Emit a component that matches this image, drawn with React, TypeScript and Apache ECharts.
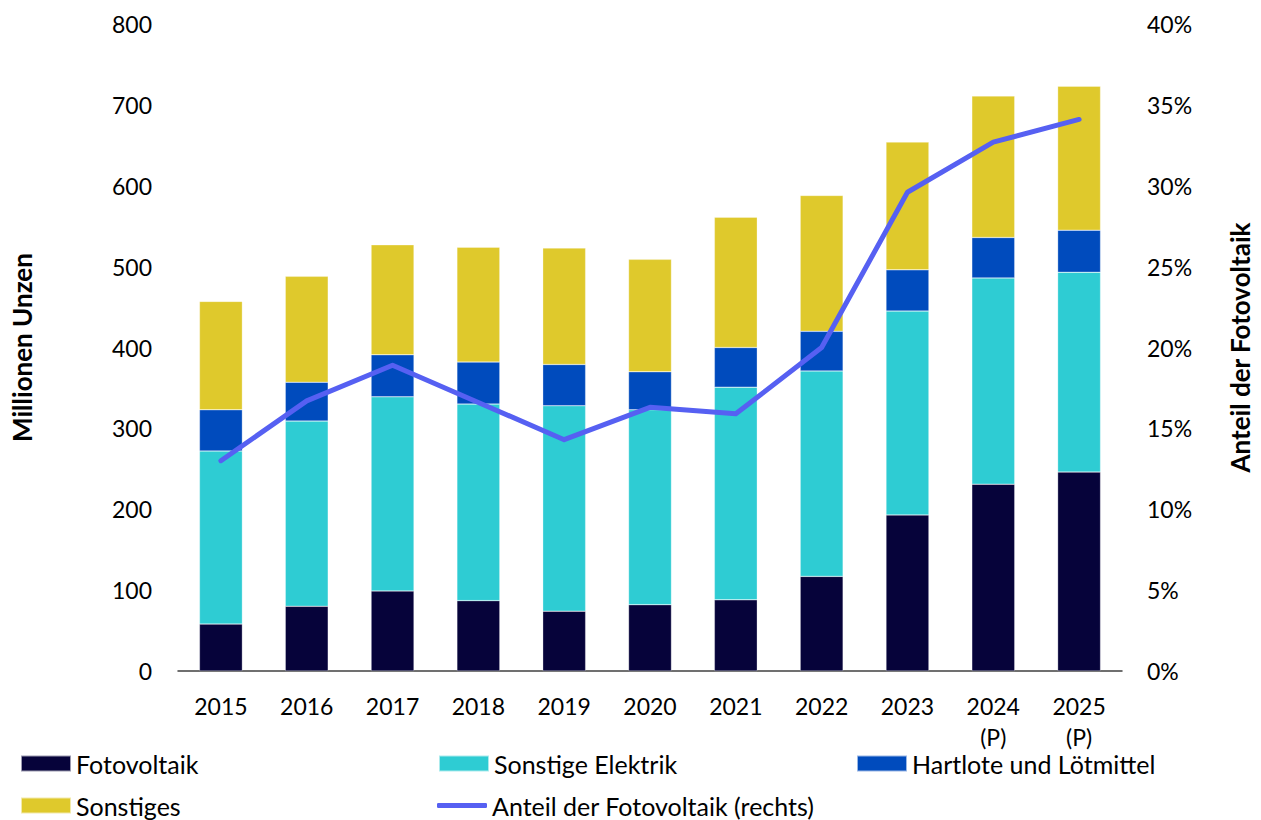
import React, { useEffect, useRef } from "react";
import * as echarts from "echarts";

const categories = ["2015", "2016", "2017", "2018", "2019", "2020", "2021", "2022", "2023", "2024\n(P)", "2025\n(P)"];
const fotovoltaik = [58, 80, 99, 87, 74, 82, 88, 117, 193, 231, 246];
const sonstigeElektrik = [214, 229, 240, 243, 254, 241, 263, 254, 252, 255, 247];
const hartlote = [51, 48, 52, 52, 51, 47, 49, 49, 51, 50, 52];
const sonstiges = [134, 131, 136, 142, 144, 139, 161, 168, 158, 175, 178];
const anteilPV = [13.0, 16.7, 18.9, 16.6, 14.3, 16.3, 15.9, 20.0, 29.6, 32.7, 34.1];
const leftTicks = { min: 0, max: 800, interval: 100 };
const rightTicks = { min: 0, max: 40, interval: 5 };

const FONT = "Lato";

export default function App() {
  const ref = useRef<HTMLDivElement>(null);
  useEffect(() => {
    if (!ref.current) return;
    const chart = echarts.init(ref.current, null, { renderer: "svg" });
    const barBase = {
      type: "bar",
      stack: "total",
      barWidth: "50%",
      itemStyle: { borderColor: "rgba(255,255,255,0.6)", borderWidth: 0.5 },
    };
    const legendText = { fontFamily: FONT, fontSize: 25, color: "#000" };
    const mkLegend = (name: string, left: number, top: number, icon: string, h = 16) => ({
      data: [{ name, icon }],
      left,
      top,
      padding: 0,
      itemWidth: 50,
      itemHeight: h,
      textStyle: legendText,
      selectedMode: false,
    });
    chart.setOption({
      animation: false,
      textStyle: { fontFamily: FONT },
      grid: { left: 178, right: 138, top: 24, bottom: 149 },
      legend: [
        mkLegend("Fotovoltaik", 20, 751, "rect"),
        mkLegend("Sonstige Elektrik", 438, 751, "rect"),
        mkLegend("Hartlote und Lötmittel", 856, 751, "rect"),
        mkLegend("Sonstiges", 20, 793, "rect"),
        mkLegend("Anteil der Fotovoltaik (rechts)", 437, 793, "roundRect", 5),
      ],
      xAxis: {
        type: "category",
        data: categories,
        axisLine: { lineStyle: { color: "#404040", width: 1.5 } },
        axisTick: { show: false },
        axisLabel: { fontFamily: FONT, fontSize: 23, color: "#000", margin: 19, lineHeight: 31 },
      },
      yAxis: [
        {
          type: "value",
          min: leftTicks.min,
          max: leftTicks.max,
          interval: leftTicks.interval,
          splitLine: { show: false },
          axisLine: { show: false },
          axisTick: { show: false },
          axisLabel: { fontFamily: FONT, fontSize: 23, color: "#000", margin: 26 },
          name: "Millionen Unzen",
          nameLocation: "middle",
          nameRotate: 90,
          nameGap: 143,
          nameTextStyle: { fontFamily: FONT, fontSize: 26, fontWeight: "bold", color: "#000" },
        },
        {
          type: "value",
          min: rightTicks.min,
          max: rightTicks.max,
          interval: rightTicks.interval,
          position: "right",
          splitLine: { show: false },
          axisLine: { show: false },
          axisTick: { show: false },
          axisLabel: { fontFamily: FONT, fontSize: 23, color: "#000", margin: 25, formatter: "{value}%" },
          name: "Anteil der Fotovoltaik",
          nameLocation: "middle",
          nameRotate: 90,
          nameGap: 105,
          nameTextStyle: { fontFamily: FONT, fontSize: 26, fontWeight: "bold", color: "#000" },
        },
      ],
      series: [
        { ...barBase, name: "Fotovoltaik", data: fotovoltaik, itemStyle: { ...barBase.itemStyle, color: "#06033A" } },
        { ...barBase, name: "Sonstige Elektrik", data: sonstigeElektrik, itemStyle: { ...barBase.itemStyle, color: "#2ECCD3" } },
        { ...barBase, name: "Hartlote und Lötmittel", data: hartlote, itemStyle: { ...barBase.itemStyle, color: "#004BBD" } },
        { ...barBase, name: "Sonstiges", data: sonstiges, itemStyle: { ...barBase.itemStyle, color: "#DFC92C" } },
        {
          type: "line",
          name: "Anteil der Fotovoltaik (rechts)",
          yAxisIndex: 1,
          data: anteilPV,
          symbol: "none",
          color: "#5660F2",
          lineStyle: { color: "#5660F2", width: 5, cap: "round", join: "round" },
          itemStyle: { color: "#5660F2" },
        },
      ],
    });
    return () => chart.dispose();
  }, []);
  return <div ref={ref} style={{ width: 1261, height: 820, position: "absolute", left: 0, top: 0 }} />;
}
